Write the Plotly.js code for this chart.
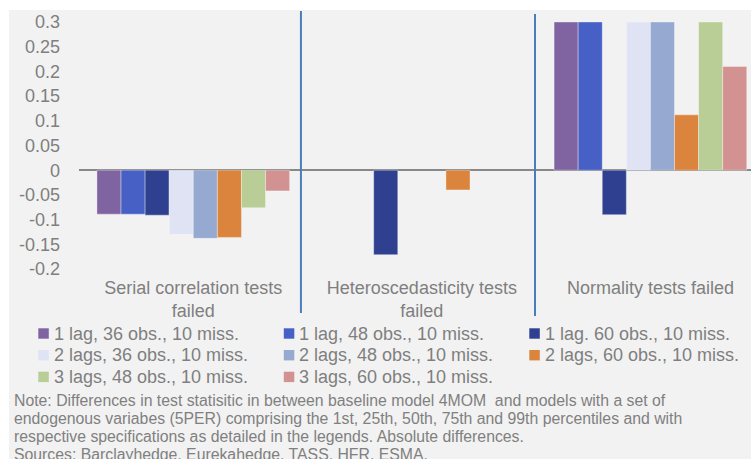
<!DOCTYPE html>
<html>
<head>
<meta charset="utf-8">
<script src="https://cdn.plot.ly/plotly-3.0.1.min.js"></script>
<style>
  html, body { margin: 0; padding: 0; background: #ffffff; }
  #chart { width: 751px; height: 459px; }
</style>
</head>
<body>
<div id="chart"></div>
<script>
// ---- Data ----
const categories = [
  "Serial correlation tests<br>failed",
  "Heteroscedasticity tests<br>failed",
  "Normality tests failed"
];
const seriesNames = [
  "1 lag, 36 obs., 10 miss.",
  "1 lag, 48 obs., 10 miss.",
  "1 lag. 60 obs., 10 miss.",
  "2 lags, 36 obs., 10 miss.",
  "2 lags, 48 obs., 10 miss.",
  "2 lags, 60 obs., 10 miss.",
  "3 lags, 48 obs., 10 miss.",
  "3 lags, 60 obs., 10 miss."
];
const lag1obs36 = [-0.089, null, 0.30];
const lag1obs48 = [-0.089, null, 0.30];
const lag1obs60 = [-0.091, -0.171, -0.090];
const lag2obs36 = [-0.130, null, 0.30];
const lag2obs48 = [-0.138, null, 0.30];
const lag2obs60 = [-0.136, -0.040, 0.112];
const lag3obs48 = [-0.076, null, 0.30];
const lag3obs60 = [-0.042, null, 0.210];
const seriesValues = [lag1obs36, lag1obs48, lag1obs60, lag2obs36, lag2obs48, lag2obs60, lag3obs48, lag3obs60];
const seriesColors = ["#8064a2", "#4660c6", "#2e408f", "#dfe3f4", "#95a9d1", "#db843d", "#b9cd96", "#d29291"];

const yTickVals = [0.3, 0.25, 0.2, 0.15, 0.1, 0.05, 0, -0.05, -0.1, -0.15, -0.2];
const yTickText = ["0.3", "0.25", "0.2", "0.15", "0.1", "0.05", "0", "-0.05", "-0.1", "-0.15", "-0.2"];

const noteLines = [
  "Note: Differences in test statisitic in between baseline model 4MOM&nbsp; and models with a set of",
  "endogenous variabes (5PER) comprising the 1st, 25th, 50th, 75th and 99th percentiles and with",
  "respective specifications as detailed in the legends. Absolute differences.",
  "Sources: Barclayhedge, Eurekahedge, TASS, HFR, ESMA."
];

// ---- Layout helpers (pixel -> paper) ----
const W = 751, H = 459;
const M = { l: 79, r: 0, t: 22, b: 190 };
const PW = W - M.l - M.r, PH = H - M.t - M.b;
const px = x => (x - M.l) / PW;
const py = y => (H - M.b - y) / PH;

const FONT = "Liberation Sans, Arial, sans-serif";
const GREY = "#7f7f7f";

const traces = seriesNames.map((name, i) => ({
  type: "bar",
  name: name,
  x: categories,
  y: seriesValues[i],
  marker: { color: seriesColors[i], line: { color: "rgba(255,255,255,0.35)", width: 1 } },
  showlegend: false,
  hoverinfo: "name+y"
}));

const shapes = [
  // grey chart background
  { type: "rect", xref: "paper", yref: "paper", layer: "below",
    x0: px(9), x1: px(760), y0: py(470), y1: py(10),
    fillcolor: "#f2f2f2", line: { width: 0 } },
  // category separators
  { type: "line", xref: "x", yref: "paper", x0: 0.471, x1: 0.471, y0: py(313), y1: py(11),
    line: { color: "#4a7ebb", width: 2 } },
  { type: "line", xref: "x", yref: "paper", x0: 1.495, x1: 1.495, y0: py(316), y1: py(14),
    line: { color: "#4a7ebb", width: 2 } }
];

const annotations = [];
seriesNames.forEach((name, i) => {
  const col = i % 3, row = Math.floor(i / 3);
  const cx = 38.3 + 245.5 * col;
  const cy = 333.5 + 21.7 * row;
  shapes.push({ type: "rect", xref: "paper", yref: "paper",
    x0: px(cx), x1: px(cx + 10.5), y0: py(cy + 5.2), y1: py(cy - 5.2),
    fillcolor: seriesColors[i], line: { width: 0 } });
  annotations.push({ xref: "paper", yref: "paper", x: px(52.7 + 245.5 * col - 1), y: py(cy),
    xanchor: "left", yanchor: "middle", showarrow: false, text: name,
    font: { family: FONT, size: 18, color: GREY } });
});
noteLines.forEach((line, k) => {
  annotations.push({ xref: "paper", yref: "paper", x: px(11.5), y: py(400 + 18 * k),
    xanchor: "left", yanchor: "middle", align: "left", showarrow: false, text: line,
    font: { family: FONT, size: 15.8, color: "#808080" } });
});

const layout = {
  width: W, height: H,
  margin: M,
  paper_bgcolor: "#ffffff",
  plot_bgcolor: "rgba(0,0,0,0)",
  barmode: "group",
  bargap: 0.157,
  bargroupgap: 0,
  showlegend: false,
  font: { family: FONT, size: 18, color: GREY },
  xaxis: {
    type: "category",
    range: [-0.5, 2.44],
    showgrid: false, showline: false, zeroline: false, ticks: "",
    tickfont: { family: FONT, size: 18, color: GREY },
    ticklabelstandoff: 6,
    fixedrange: true
  },
  yaxis: {
    range: [-0.2, 0.3],
    tickvals: yTickVals, ticktext: yTickText,
    showgrid: false, showline: false, ticks: "",
    zeroline: true, zerolinecolor: "#888888", zerolinewidth: 2,
    tickfont: { family: FONT, size: 18, color: GREY },
    ticklabelstandoff: 18,
    fixedrange: true
  },
  shapes: shapes,
  annotations: annotations
};

Plotly.newPlot("chart", traces, layout, { displayModeBar: false, staticPlot: true });
</script>
</body>
</html>
